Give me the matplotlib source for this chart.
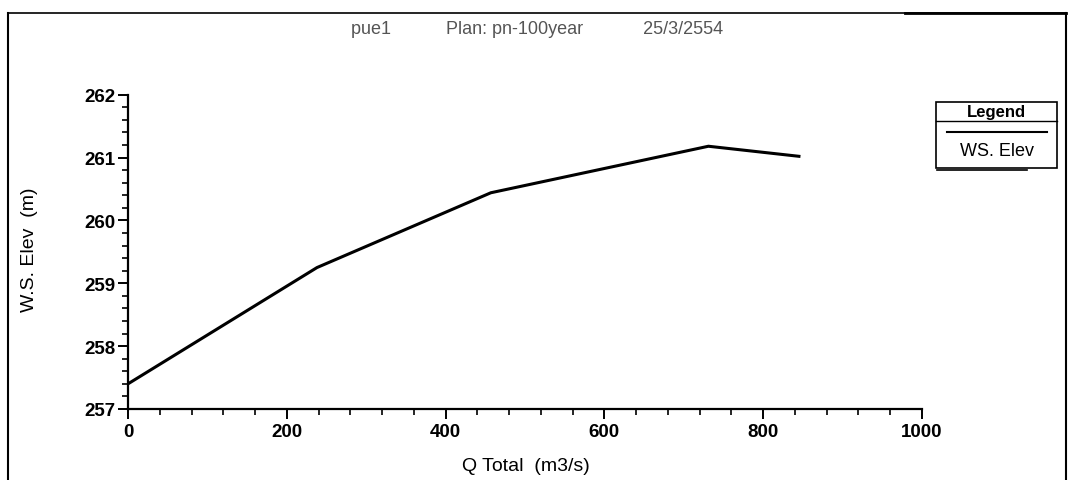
import matplotlib
matplotlib.use("Agg")
import matplotlib.pyplot as plt
from matplotlib.ticker import MultipleLocator
from matplotlib.patches import Rectangle
from matplotlib.lines import Line2D

# Rating data at the profile: total flow vs water-surface elevation
q_total = [0, 238, 457, 731, 845]
ws_elev = [257.40, 259.25, 260.44, 261.18, 261.02]

x_ticks = [0, 200, 400, 600, 800, 1000]
y_ticks = [257, 258, 259, 260, 261, 262]

title_text = "pue1           Plan: pn-100year            25/3/2554"
x_label = "Q Total  (m3/s)"
y_label = "W.S. Elev  (m)"
legend_title = "Legend"
series_name = "WS. Elev"

plt.rcParams["font.family"] = ["Liberation Sans", "DejaVu Sans"]

W, H = 1073, 481
fig = plt.figure(figsize=(W / 100, H / 100), dpi=100)
fig.patch.set_facecolor("white")

# plot area in pixel units
left, right, top, bottom = 128, 922, 95.7, 410
ax = fig.add_axes([left / W, 1 - bottom / H, (right - left) / W, (bottom - top) / H])
ax.plot(q_total, ws_elev, color="black", lw=2.2, solid_joinstyle="miter")

ax.set_xlim(x_ticks[0], x_ticks[-1])
ax.set_ylim(y_ticks[0], y_ticks[-1])
ax.set_xticks(x_ticks)
ax.set_yticks(y_ticks)
ax.xaxis.set_minor_locator(MultipleLocator(40))
ax.yaxis.set_minor_locator(MultipleLocator(0.2))
for s in ("top", "right"):
    ax.spines[s].set_visible(False)
for s in ("left", "bottom"):
    ax.spines[s].set_linewidth(1.6)
ax.tick_params(which="major", direction="out", length=7, width=1.4,
               labelsize=13.5, pad=2)
ax.tick_params(which="minor", direction="out", length=4, width=1.2)
for lab in ax.get_xticklabels() + ax.get_yticklabels():
    lab.set_fontweight("bold")
ax.tick_params(axis="x", pad=3)

# overlay in pixel coordinates for the frame, title, labels and legend box
ov = fig.add_axes([0, 0, 1, 1], zorder=-1)
ov.set_xlim(0, W)
ov.set_ylim(H, 0)
ov.axis("off")
ov.patch.set_alpha(0)

ov.add_line(Line2D([8, 8], [14, H], color="black", lw=1.5))
ov.add_line(Line2D([8, 1066], [14, 14], color="black", lw=1.2))
ov.add_line(Line2D([905, 1066], [14, 14], color="black", lw=2.0))
ov.add_line(Line2D([1066, 1066], [14, H], color="black", lw=1.5))

ov.text(537, 30, title_text, ha="center", va="center", fontsize=13,
        color="#555555")
ov.text(526, 467, x_label, ha="center", va="center", fontsize=14)
ov.text(29, 250, y_label, ha="center", va="center", fontsize=14,
        rotation=90)

ov2 = fig.add_axes([0, 0, 1, 1], zorder=5)
ov2.set_xlim(0, W)
ov2.set_ylim(H, 0)
ov2.axis("off")
ov2.patch.set_alpha(0)
ov2.add_patch(Rectangle((936, 103), 121, 66, facecolor="white",
                        edgecolor="black", lw=1.2))
ov2.add_line(Line2D([936, 1057], [122, 122], color="black", lw=1.0))
ov2.add_line(Line2D([947, 1047], [133, 133], color="black", lw=1.5))
ov2.text(996.5, 113, legend_title, ha="center", va="center", fontsize=12,
         fontweight="bold")
ov2.text(996.5, 152, series_name, ha="center", va="center", fontsize=13)
ov2.add_line(Line2D([937, 1027], [171, 171], color="black", lw=1.2))

fig.savefig("out.png", dpi=100, facecolor="white")
